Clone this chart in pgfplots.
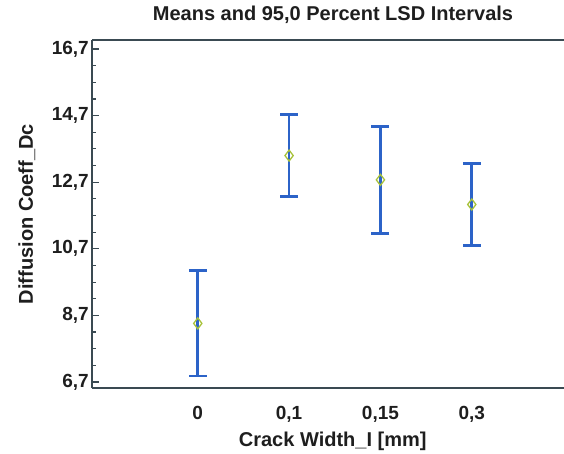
\documentclass[border=0pt]{standalone}
\usepackage{fontspec}
\setmainfont{Liberation Sans}
\usepackage{pgfplots}
\usepackage{pgfplotstable}
\pgfplotsset{compat=1.18}
\definecolor{barblue}{HTML}{2C63C8}
\definecolor{meangreen}{HTML}{A8C23A}
\definecolor{axisgray}{HTML}{3A4A52}
\definecolor{txt}{HTML}{1E1E1E}

% means and LSD half-widths
\pgfplotstableread{
x mean ep em
0 8.46 1.58 1.58
1 13.50 1.24 1.24
2 12.77 1.60 1.60
3 12.03 1.24 1.24
}\lsd

\begin{document}
\begin{tikzpicture}
\useasboundingbox (0,0) rectangle (564pt,453pt);
\begin{axis}[
  at={(92pt,65pt)}, anchor=south west,
  scale only axis, width=472pt, height=348pt,
  xmin=-1.158, xmax=4.01, ymin=6.52, ymax=16.97,
  axis x line*=box, axis y line*=left,
  axis line style={draw=axisgray, line width=1.6pt},
  every tick/.style={axisgray, line width=1.2pt},
  xtick={0,1,2,3}, xticklabels={0,{0,1},{0,15},{0,3}},
  xtick style={draw=none},
  ytick={6.7,8.7,10.7,12.7,14.7,16.7},
  yticklabels={{6,7},{8,7},{10,7},{12,7},{14,7},{16,7}},
  minor y tick num=3,
  tick align=inside, major tick length=7pt, minor tick length=4pt,
  ticklabel style={font=\bfseries\fontsize{19}{22}\selectfont, text=txt},
  yticklabel style={anchor=east, inner sep=0pt, xshift=-3pt},
  xticklabel style={anchor=base, inner sep=0pt, yshift=-31pt},
  title={Means and 95,0 Percent LSD Intervals},
  title style={at={(axis description cs:0.5,1)}, anchor=base, yshift=13pt, xshift=5pt,
    font=\bfseries\fontsize{20}{24}\selectfont, text=txt},
  xlabel={Crack Width\_I [mm]},
  xlabel style={at={(axis description cs:0.51,-0.167)}, anchor=base,
    font=\bfseries\fontsize{20}{24}\selectfont, text=txt},
  ylabel={Diffusion Coeff\_Dc},
  ylabel style={at={(axis description cs:-0.125,0.5)}, anchor=base, rotate=0,
    font=\bfseries\fontsize{20}{24}\selectfont, text=txt},
]
\addplot[draw=none, mark=none,
  error bars/.cd, y dir=both, y explicit, error mark=|,
  error bar style={barblue, line width=2.8pt},
  error mark options={barblue, line width=2.8pt, mark size=9pt}]
  table[x=x, y=mean, y error plus=ep, y error minus=em] {\lsd};
\addplot[only marks, mark=diamond, mark size=5.5pt,
  mark options={draw=meangreen, line width=1.3pt}]
  table[x=x, y=mean] {\lsd};
\end{axis}
\end{tikzpicture}
\end{document}
